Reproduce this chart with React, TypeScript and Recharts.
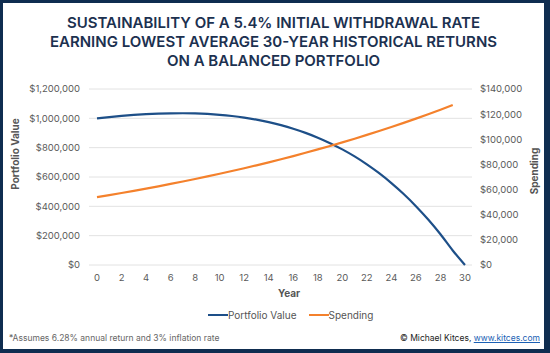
import React from 'react';
import {
  LineChart,
  Line,
  XAxis,
  YAxis,
  CartesianGrid,
} from 'recharts';

// values (year 0..30)
const years = [
  0, 1, 2, 3, 4, 5, 6, 7, 8, 9, 10, 11, 12, 13, 14, 15, 16, 17, 18, 19, 20,
  21, 22, 23, 24, 25, 26, 27, 28, 29, 30,
];
const portfolioValue = [
  1000000, 1008800, 1016533, 1023082, 1028325, 1032126, 1034343, 1034820,
  1033394, 1029885, 1024104, 1015847, 1004893, 991010, 973944, 953428, 929173,
  900871, 868192, 830783, 788267, 740240, 686272, 625900, 558633, 483944,
  401272, 310016, 209535, 99146, 0,
];
const spending = [
  54000, 55620, 57289, 59007, 60778, 62601, 64479, 66413, 68406, 70458, 72572,
  74749, 76991, 79301, 81680, 84130, 86654, 89254, 91931, 94689, 97530,
  100456, 103470, 106574, 109771, 113064, 116456, 119950, 123548, 127255, null,
];
const yearTicks = [0, 2, 4, 6, 8, 10, 12, 14, 16, 18, 20, 22, 24, 26, 28, 30];
const valueTicks = [0, 200000, 400000, 600000, 800000, 1000000, 1200000];
const spendingTicks = [0, 20000, 40000, 60000, 80000, 100000, 120000, 140000];

const COLORS = { portfolio: '#1d4f88', spending: '#f4812c' };
const NAVY = '#0f2d50';
const FONT = 'Inter, "Open Sans", sans-serif';

const data = years.map((y, i) => ({
  year: y,
  portfolio: portfolioValue[i],
  spending: spending[i],
}));

const money = (v: number) => '$' + v.toLocaleString('en-US');

const tickStyle = { fontSize: 9.5, fill: '#5a5a5a', fontFamily: FONT };

export default function App() {
  return (
    <div
      style={{
        position: 'absolute',
        left: 0,
        top: 0,
        width: 550,
        height: 353,
        boxSizing: 'border-box',
        background: '#fff',
        borderStyle: 'solid',
        borderColor: NAVY,
        borderWidth: '3px 6px 4px 3px',
        fontFamily: FONT,
      }}
    >
      <div
        style={{
          position: 'absolute',
          left: 0,
          top: 10,
          width: 541,
          textAlign: 'center',
          color: '#1c3150',
          fontWeight: 600,
          fontSize: 15,
          lineHeight: '19px',
        }}
      >
        SUSTAINABILITY OF A 5.4% INITIAL WITHDRAWAL RATE
        <br />
        EARNING LOWEST AVERAGE 30-YEAR HISTORICAL RETURNS
        <br />
        ON A BALANCED PORTFOLIO
      </div>

      <div style={{ position: 'absolute', left: -3, top: -3 }}>
        <LineChart
          width={550}
          height={353}
          data={data}
          margin={{ top: 89, right: 8, bottom: 58, left: 9 }}
        >
          <CartesianGrid
            vertical={false}
            stroke="#e2e2e2"
            yAxisId="left"
          />
          <XAxis
            dataKey="year"
            type="number"
            domain={[0, 30]}
            ticks={yearTicks}
            padding={{ left: 8, right: 7 }}
            axisLine={false}
            tickLine={false}
            tickSize={0}
            tickMargin={9}
            height={30}
            tick={tickStyle}
          />
          <YAxis
            yAxisId="left"
            domain={[0, 1200000]}
            ticks={valueTicks}
            tickFormatter={money}
            axisLine={false}
            tickLine={false}
            tickSize={0}
            tickMargin={9}
            width={80}
            tick={tickStyle}
          />
          <YAxis
            yAxisId="right"
            orientation="right"
            domain={[0, 140000]}
            ticks={spendingTicks}
            tickFormatter={money}
            axisLine={false}
            tickLine={false}
            tickSize={0}
            tickMargin={8}
            width={70}
            tick={{ ...tickStyle, textAnchor: 'start' }}
          />
          <Line
            yAxisId="left"
            dataKey="portfolio"
            name="Portfolio Value"
            stroke={COLORS.portfolio}
            strokeWidth={2.2}
            dot={false}
            type="monotone"
            isAnimationActive={false}
          />
          <Line
            yAxisId="right"
            dataKey="spending"
            name="Spending"
            stroke={COLORS.spending}
            strokeWidth={2.2}
            dot={false}
            type="monotone"
            isAnimationActive={false}
          />
        </LineChart>
      </div>

      <div
        style={{
          position: 'absolute',
          left: 12,
          top: 151,
          transform: 'translate(-50%, -50%) rotate(-90deg)',
          fontSize: 10,
          fontWeight: 700,
          color: '#555',
          whiteSpace: 'nowrap',
        }}
      >
        Portfolio Value
      </div>
      <div
        style={{
          position: 'absolute',
          left: 531,
          top: 168,
          transform: 'translate(-50%, -50%) rotate(-90deg)',
          fontSize: 10,
          fontWeight: 700,
          color: '#555',
          whiteSpace: 'nowrap',
        }}
      >
        Spending
      </div>
      <div
        style={{
          position: 'absolute',
          left: 286,
          top: 290,
          transform: 'translate(-50%, -50%)',
          fontSize: 10,
          fontWeight: 700,
          color: '#555',
        }}
      >
        Year
      </div>

      <div
        style={{
          position: 'absolute',
          left: 205,
          top: 305,
          display: 'flex',
          alignItems: 'center',
          fontSize: 10,
          color: '#555',
          lineHeight: '14px',
        }}
      >
        <span
          style={{
            display: 'inline-block',
            width: 20,
            height: 2.5,
            background: COLORS.portfolio,
          }}
        />
        <span style={{ marginRight: 12 }}>Portfolio Value</span>
        <span
          style={{
            display: 'inline-block',
            width: 20,
            height: 2.5,
            background: COLORS.spending,
          }}
        />
        <span>Spending</span>
      </div>

      <div
        style={{
          position: 'absolute',
          left: 6,
          top: 330,
          fontSize: 8.5,
          color: '#666',
        }}
      >
        *Assumes 6.28% annual return and 3% inflation rate
      </div>
      <div
        style={{
          position: 'absolute',
          right: 4,
          top: 330,
          fontSize: 8.5,
          color: '#222',
        }}
      >
        © Michael Kitces,{' '}
        <span style={{ color: '#1a5fb4', textDecoration: 'underline' }}>
          www.kitces.com
        </span>
      </div>
    </div>
  );
}
